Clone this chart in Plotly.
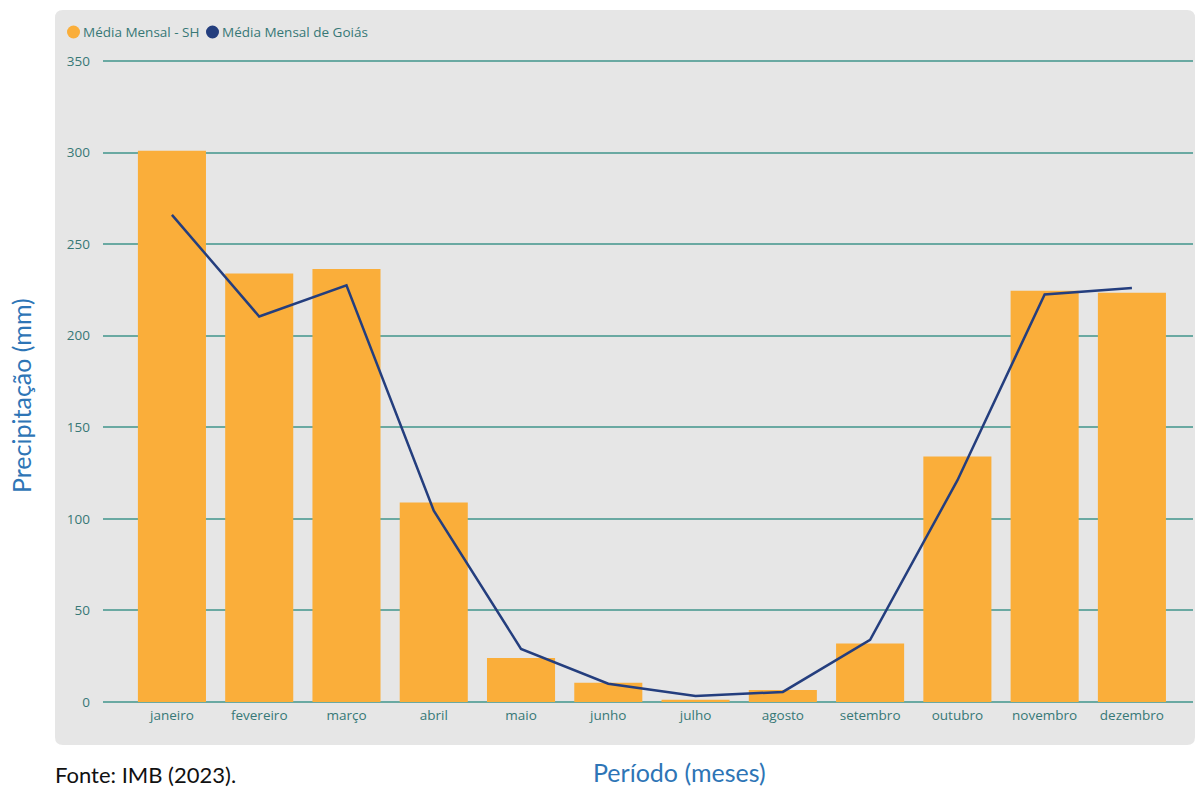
import plotly.graph_objects as go

meses = ["janeiro", "fevereiro", "março", "abril", "maio", "junho",
         "julho", "agosto", "setembro", "outubro", "novembro", "dezembro"]
media_sh = [301, 234, 236.5, 109, 24, 10.5, 1.2, 6.5, 32, 134, 224.5, 223.5]
media_goias = [266, 210.5, 227.5, 104.5, 29, 10, 3.3, 5.5, 34, 121, 222.5, 226]
y_ticks = [0, 50, 100, 150, 200, 250, 300, 350]

ORANGE = "#FAAE3A"
NAVY = "#243E7E"
TEAL = "#6AA9A2"
LABEL = "#377876"
BLUE = "#2E75B6"

W, H = 1195, 787
L, R, T, B = 103, 1193, 57, 702  # plot area in pixels
YMAX = 352.2


def px2x(px):
    return (px - L) / (R - L)


def py2y(py):
    return (B - py) / (B - T)


fig = go.Figure()
fig.add_trace(go.Bar(x=meses, y=media_sh, name="Média Mensal - SH",
                     marker=dict(color=ORANGE, line=dict(width=0)),
                     showlegend=False))
fig.add_trace(go.Scatter(x=meses, y=media_goias, name="Média Mensal de Goiás",
                         mode="lines", line=dict(color=NAVY, width=2.5),
                         showlegend=False))

# rounded grey panel
x0, x1 = px2x(55), px2x(1195)
y0, y1 = py2y(745), py2y(10)
rx, ry = 8 / (R - L), 8 / (B - T)
path = (f"M {x0+rx},{y1} L {x1-rx},{y1} Q {x1},{y1} {x1},{y1-ry} "
        f"L {x1},{y0+ry} Q {x1},{y0} {x1-rx},{y0} "
        f"L {x0+rx},{y0} Q {x0},{y0} {x0},{y0+ry} "
        f"L {x0},{y1-ry} Q {x0},{y1} {x0+rx},{y1} Z")
fig.add_shape(type="path", path=path, xref="paper", yref="paper",
              fillcolor="#E6E6E6", line=dict(width=0), layer="below")

# legend: circle markers + text
legend_items = [("Média Mensal - SH", ORANGE, 73.5, 81), ("Média Mensal de Goiás", NAVY, 212.5, 219.5)]
annotations = []
for name, color, cx, tx in legend_items:
    fig.add_shape(type="circle", xref="paper", yref="paper",
                  x0=px2x(cx - 6.5), x1=px2x(cx + 6.5), y0=py2y(32 + 6.5), y1=py2y(32 - 6.5),
                  fillcolor=color, line=dict(width=0), layer="above")
    annotations.append(dict(
        text=name, xref="paper", yref="paper", x=px2x(tx), y=py2y(32),
        xanchor="left", yanchor="middle", showarrow=False,
        font=dict(family="Open Sans", size=13.5, color=LABEL)))

annotations += [
    dict(text="Precipitação (mm)", xref="paper", yref="paper",
         x=px2x(21), y=py2y(396), textangle=-90, showarrow=False,
         xanchor="center", yanchor="middle",
         font=dict(family="Lato", size=25, color=BLUE)),
    dict(text="Período (meses)", xref="paper", yref="paper",
         x=px2x(679), y=py2y(787), showarrow=False,
         xanchor="center", yanchor="bottom", yshift=-2,
         font=dict(family="Lato", size=25, color=BLUE)),
    dict(text="Fonte: IMB (2023).", xref="paper", yref="paper",
         x=px2x(53), y=py2y(787), showarrow=False,
         xanchor="left", yanchor="bottom", yshift=-3,
         font=dict(family="Lato", size=22, color="#111111")),
]

fig.update_layout(
    width=W, height=H,
    margin=dict(l=L, r=W - R, t=T, b=H - B, autoexpand=False),
    paper_bgcolor="white", plot_bgcolor="rgba(0,0,0,0)",
    font=dict(family="Open Sans", size=13.5, color=LABEL),
    bargap=0.22,
    showlegend=False,
    xaxis=dict(range=[-0.79, 11.70], showgrid=False, zeroline=False, showline=False,
               ticks="", tickfont=dict(size=13.5, color=LABEL), ticklabelstandoff=3,
               fixedrange=True),
    yaxis=dict(range=[0, YMAX], tickvals=y_ticks, showgrid=True, gridcolor=TEAL,
               gridwidth=1.5, zeroline=True, zerolinecolor=TEAL, zerolinewidth=1.5,
               showline=False, ticks="", tickfont=dict(size=13.5, color=LABEL),
               ticklabelstandoff=12, fixedrange=True),
    annotations=annotations,
)

fig.write_html("out.html")
